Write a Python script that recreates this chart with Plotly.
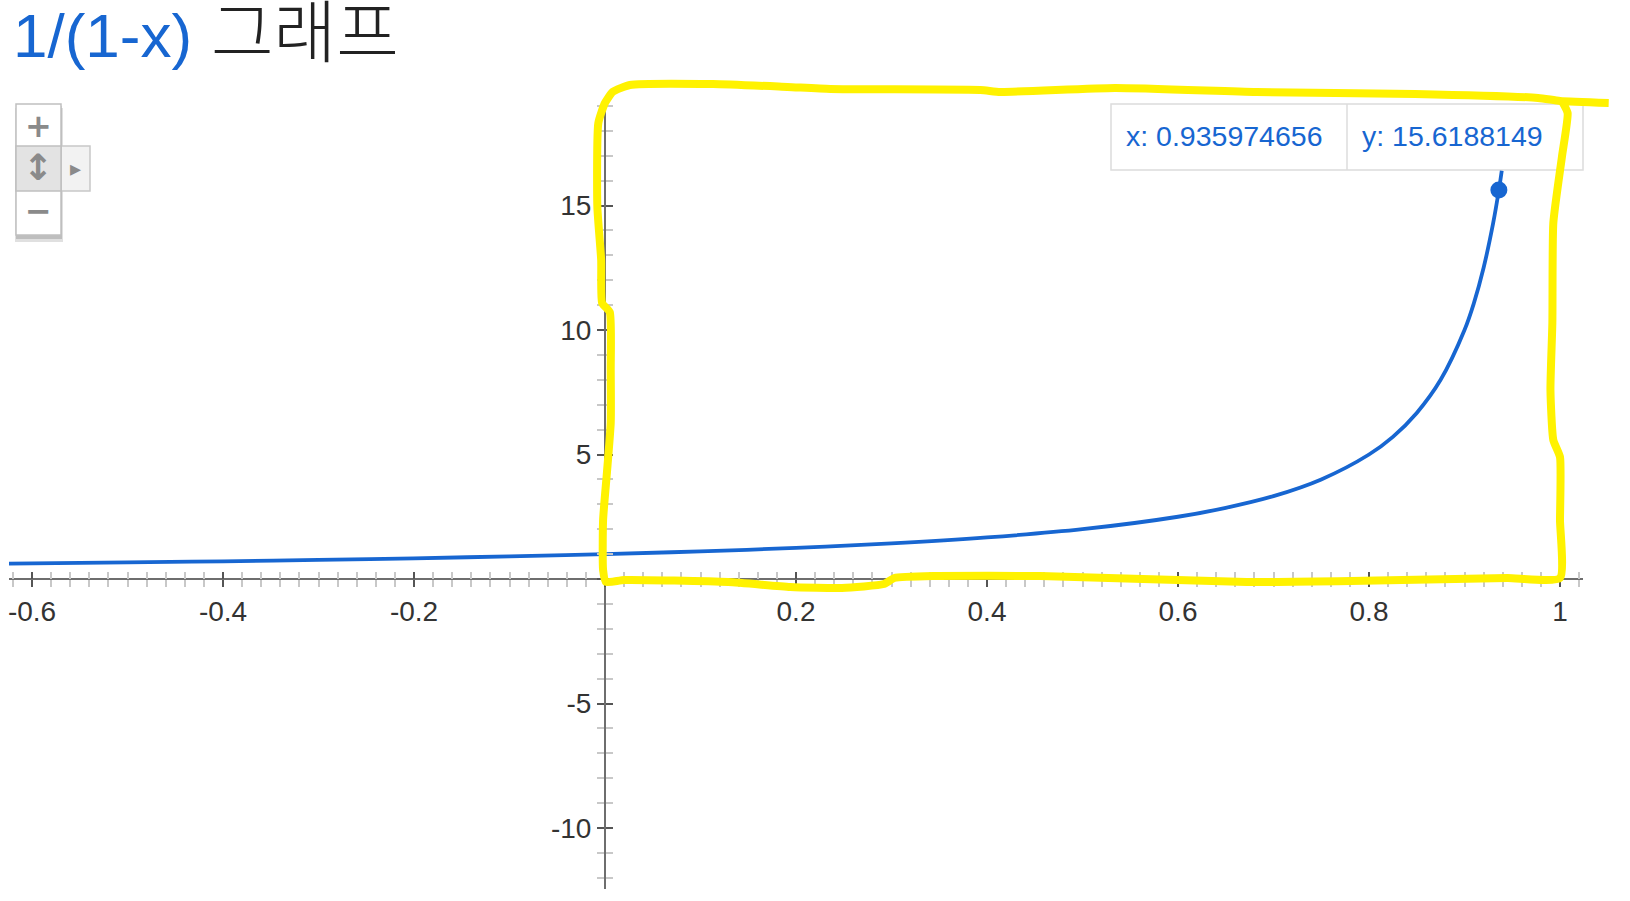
import plotly.graph_objects as go

W, H = 1630, 901

# 1/(1-x) curve, points
curve_x = [-0.625, -0.5, -0.4, -0.3, -0.2, -0.1, 0.0, 0.1, 0.2, 0.3, 0.4, 0.5, 0.6, 0.65, 0.7,
           0.75, 0.8, 0.825, 0.85, 0.875, 0.9, 0.91, 0.92, 0.93, 0.936, 0.939]
curve_y = [0.62, 0.67, 0.71, 0.77, 0.83, 0.91, 1.0, 1.11, 1.25, 1.43, 1.67, 2.0, 2.5, 2.86, 3.33,
           4.0, 5.0, 5.71, 6.67, 8.0, 10.0, 11.1, 12.5, 14.29, 15.62, 16.4]

# hovered point
hover_x = 0.935974656
hover_y = 15.6188149

x_ticks = [-0.6, -0.4, -0.2, 0, 0.2, 0.4, 0.6, 0.8, 1]
x_tick_labels = ['-0.6', '-0.4', '-0.2', '', '0.2', '0.4', '0.6', '0.8', '1']
y_ticks = [-10, -5, 0, 5, 10, 15]
y_tick_labels = ['-10', '-5', '', '5', '10', '15']

# yellow hand-drawn box
mark_x = [1.051, 1.0, 0.977, 0.848, 0.682, 0.534, 0.414, 0.393, 0.236, 0.191,
          0.113, 0.026, 0.008, 0.0, -0.007, -0.008, -0.004, -0.003, 0.005, 0.006,
          0.006, 0.002, -0.002, -0.002, 0.001, 0.020, 0.129, 0.194, 0.248, 0.292,
          0.303, 0.347, 0.456, 0.563, 0.672, 0.781, 0.890, 0.945, 1.0, 1.0,
          1.0, 0.993, 0.990, 0.992, 0.993, 1.002, 1.008, 1.003]
mark_y = [19.12, 19.20, 19.32, 19.48, 19.56, 19.72, 19.56, 19.64, 19.68, 19.76,
          19.88, 19.84, 19.56, 19.12, 18.31, 14.94, 12.81, 11.08, 10.72, 8.39,
          6.27, 4.26, 2.37, 0.36, -0.12, -0.04, -0.12, -0.32, -0.36, -0.20,
          0.04, 0.12, 0.12, 0.0, -0.12, -0.08, 0.0, 0.04, 0.04, 2.37,
          4.90, 5.58, 7.59, 10.28, 14.30, 16.95, 18.71, 19.12]

BLUE = '#1766d1'
FONT = 'Liberation Sans, Arial, Noto Sans CJK KR, sans-serif'

# pixel geometry of the axes
X0, XS = 605, 955.0   # pixel of x=0, pixels per unit
Y0, YS = 579, 24.9    # pixel of y=0, pixels per unit


def xd(p):
    return (p - X0) / XS


def yd(p):
    return (Y0 - p) / YS


def px(p):
    return p / W


def py(p):
    return 1 - p / H


fig = go.Figure()

fig.add_trace(go.Scatter(x=curve_x, y=curve_y, mode='lines', line=dict(color=BLUE, width=3.8, shape='spline'),
                         hoverinfo='skip', showlegend=False))
fig.add_trace(go.Scatter(x=[hover_x], y=[hover_y], mode='markers', marker=dict(color=BLUE, size=17),
                         hoverinfo='skip', showlegend=False))
# empty traces so the tick-overlay axes get drawn
fig.add_trace(go.Scatter(x=[None], y=[None], xaxis='x3', yaxis='y', showlegend=False, hoverinfo='skip'))
fig.add_trace(go.Scatter(x=[None], y=[None], xaxis='x', yaxis='y3', showlegend=False, hoverinfo='skip'))
# yellow box on a full-page invisible subplot (drawn on top)
fig.add_trace(go.Scatter(x=mark_x, y=mark_y, xaxis='x2', yaxis='y2', mode='lines',
                         line=dict(color='#fff200', width=8, shape='spline', smoothing=0.5),
                         hoverinfo='skip', showlegend=False))

xr = [xd(9), xd(1583)]
yr = [yd(889), yd(103)]
x_pos = py(Y0)
y_pos = px(X0)

tickfont = dict(family=FONT, size=28, color='#333')
minor_x = dict(tickmode='linear', tick0=0, dtick=0.02, ticklen=7, tickwidth=1.5, tickcolor='#c8c8c8')
minor_y = dict(tickmode='linear', tick0=0, dtick=1, ticklen=7, tickwidth=1.5, tickcolor='#c8c8c8')

fig.update_layout(
    width=W, height=H,
    margin=dict(l=0, r=0, t=0, b=0),
    paper_bgcolor='white', plot_bgcolor='rgba(0,0,0,0)',
    xaxis=dict(domain=[px(9), px(1583)], range=xr, anchor='free', position=x_pos,
               tickmode='array', tickvals=x_ticks, ticktext=x_tick_labels, tickfont=tickfont,
               ticks='outside', ticklen=7, tickwidth=2, tickcolor='#555',
               minor=dict(ticks='outside', **minor_x),
               showline=True, linecolor='#6e6e6e', linewidth=2,
               showgrid=False, zeroline=False),
    xaxis3=dict(overlaying='x', range=xr, anchor='free', position=x_pos,
                tickmode='array', tickvals=x_ticks, showticklabels=False,
                ticks='inside', ticklen=7, tickwidth=2, tickcolor='#555',
                minor=dict(ticks='inside', **minor_x),
                showline=False, showgrid=False, zeroline=False),
    yaxis=dict(domain=[py(889), py(103)], range=yr, anchor='free', position=y_pos,
               tickmode='array', tickvals=y_ticks, ticktext=y_tick_labels, tickfont=tickfont,
               ticks='outside', ticklen=7, tickwidth=2, tickcolor='#555',
               minor=dict(ticks='outside', **minor_y),
               showline=True, linecolor='#6e6e6e', linewidth=2,
               showgrid=False, zeroline=False),
    yaxis3=dict(overlaying='y', range=yr, anchor='free', position=y_pos,
                tickmode='array', tickvals=y_ticks, showticklabels=False,
                ticks='inside', ticklen=7, tickwidth=2, tickcolor='#555',
                minor=dict(ticks='inside', **minor_y),
                showline=False, showgrid=False, zeroline=False),
    xaxis2=dict(domain=[0, 1], range=[xd(0), xd(W)], anchor='y2', visible=False),
    yaxis2=dict(domain=[0, 1], range=[yd(H), yd(0)], anchor='x2', visible=False),
)

shapes = []
# hover tooltip box
shapes.append(dict(type='rect', xref='paper', yref='paper', x0=px(1111), x1=px(1583), y0=py(170), y1=py(104),
                   fillcolor='white', line=dict(color='#dcdcdc', width=1.5), layer='below'))
shapes.append(dict(type='line', xref='paper', yref='paper', x0=px(1347), x1=px(1347), y0=py(170), y1=py(104),
                   line=dict(color='#dcdcdc', width=1.5), layer='below'))
# zoom control widget
shapes.append(dict(type='rect', xref='paper', yref='paper', x0=px(15), x1=px(63), y0=py(242), y1=py(108),
                   fillcolor='rgba(0,0,0,0.12)', line=dict(width=0), layer='below'))
shapes.append(dict(type='rect', xref='paper', yref='paper', x0=px(16), x1=px(62), y0=py(239), y1=py(106),
                   fillcolor='rgba(0,0,0,0.15)', line=dict(width=0), layer='below'))
shapes.append(dict(type='rect', xref='paper', yref='paper', x0=px(61), x1=px(90), y0=py(191), y1=py(146),
                   fillcolor='#f2f2f2', line=dict(color='#c8c8c8', width=1.5), layer='below'))
shapes.append(dict(type='rect', xref='paper', yref='paper', x0=px(16), x1=px(61), y0=py(235), y1=py(104),
                   fillcolor='white', line=dict(color='#c0c0c0', width=1.5), layer='below'))
shapes.append(dict(type='rect', xref='paper', yref='paper', x0=px(16), x1=px(61), y0=py(191), y1=py(146),
                   fillcolor='#e3e3e3', line=dict(color='#c0c0c0', width=1.5), layer='below'))
fig.update_layout(shapes=shapes)

ann = []
ann.append(dict(xref='paper', yref='paper', x=px(11), y=py(33), xanchor='left', yanchor='middle',
                text='<span style="color:%s">1/(1-x)</span>'
                     '<span style="font-weight:300;font-size:68px"> 그래프</span>' % BLUE,
                font=dict(family=FONT, size=62, color='#222'), showarrow=False))
ann.append(dict(xref='paper', yref='paper', x=px(1124), y=py(136), xanchor='left', yanchor='middle',
                text='x: %s' % hover_x, font=dict(family=FONT, size=28.5, color=BLUE), showarrow=False))
ann.append(dict(xref='paper', yref='paper', x=px(1360), y=py(136), xanchor='left', yanchor='middle',
                text='y: %s' % hover_y, font=dict(family=FONT, size=28.5, color=BLUE), showarrow=False))
for sym, cx, cy, sz in [('+', 38, 126, 32), ('↕', 38, 168, 36), ('−', 38, 211, 32), ('▸', 75, 169, 22)]:
    ann.append(dict(xref='paper', yref='paper', x=px(cx), y=py(cy), xanchor='center', yanchor='middle',
                    text='<b>%s</b>' % sym, font=dict(family='DejaVu Sans', size=sz, color='#8a8a8a'),
                    showarrow=False))
fig.update_layout(annotations=ann)

fig.write_html("out.html", config={'displayModeBar': False},
               post_script="document.body.style.margin='0';")
